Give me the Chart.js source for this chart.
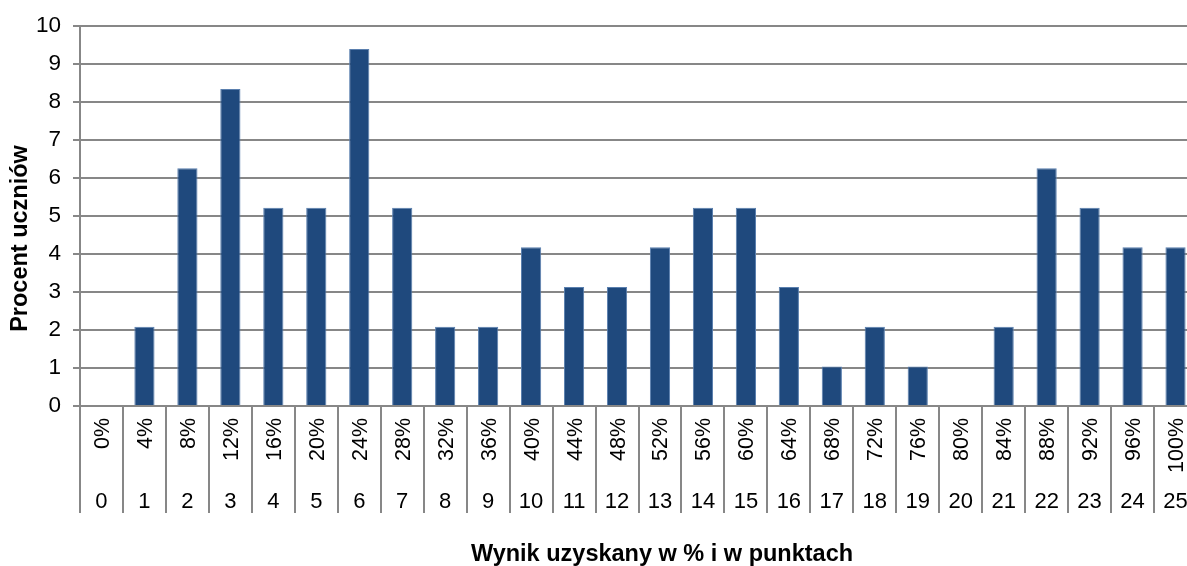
<!DOCTYPE html>
<html lang="pl">
<head>
<meta charset="utf-8">
<title>Rozkład wyników</title>
<script src="https://cdn.jsdelivr.net/npm/chart.js@4.4.1/dist/chart.umd.min.js"></script>
<style>
  html, body { margin: 0; padding: 0; background: #fff; overflow: hidden; }
  #wrap { width: 1200px; height: 566px; }
</style>
</head>
<body>
<div id="wrap"><canvas id="chart" width="1200" height="566"></canvas></div>
<script>
// Score in points (0–25) and the matching score in percent
const points = ['0','1','2','3','4','5','6','7','8','9','10','11','12','13','14','15','16','17','18','19','20','21','22','23','24','25'];
const percents = ['0%','4%','8%','12%','16%','20%','24%','28%','32%','36%','40%','44%','48%','52%','56%','60%','64%','68%','72%','76%','80%','84%','88%','92%','96%','100%'];
// Share of students with each score, in percent
const shares = [0, 2.08, 6.25, 8.33, 5.21, 5.21, 9.38, 5.21, 2.08, 2.08, 4.17, 3.13, 3.13, 4.17, 5.21, 5.21, 3.13, 1.04, 2.08, 1.04, 0, 2.08, 6.25, 5.21, 4.17, 4.17];
// Value axis
const yMin = 0;
const yMax = 10;
const yStep = 1;

const yTitle = 'Procent uczniów';
const xTitle = 'Wynik uzyskany w % i w punktach';

const GRID = '#878787';
const FONT = '"Liberation Sans", Arial, sans-serif';

// Two-row category labels (rotated percent + points) and both axis titles
const labelPlugin = {
  id: 'labelRows',
  afterDraw(chart) {
    const ctx = chart.ctx;
    const x = chart.scales.x;
    ctx.save();
    ctx.fillStyle = '#000';
    for (let i = 0; i < points.length; i++) {
      const cx = x.getPixelForValue(i);
      // percent row, rotated, reading bottom to top
      ctx.save();
      ctx.translate(cx + 7.5, 418);
      ctx.rotate(-Math.PI / 2);
      ctx.font = '21.5px ' + FONT;
      ctx.textAlign = 'right';
      ctx.textBaseline = 'alphabetic';
      ctx.fillText(percents[i], 0, 0);
      ctx.restore();
      // points row
      ctx.font = '22px ' + FONT;
      ctx.textAlign = 'center';
      ctx.textBaseline = 'alphabetic';
      ctx.fillText(points[i], cx, 508);
    }
    // axis titles
    ctx.font = 'bold 23.5px ' + FONT;
    ctx.textAlign = 'center';
    ctx.textBaseline = 'alphabetic';
    ctx.fillText(xTitle, 662, 561);
    ctx.save();
    ctx.translate(27, 238.5);
    ctx.rotate(-Math.PI / 2);
    ctx.fillText(yTitle, 0, 0);
    ctx.restore();
    ctx.restore();
  }
};

new Chart(document.getElementById('chart'), {
  type: 'bar',
  data: {
    labels: points,
    datasets: [{
      data: shares,
      backgroundColor: '#1f497d',
      borderColor: '#5a7fae',
      borderWidth: 1,
      barPercentage: 0.47,
      categoryPercentage: 1
    }]
  },
  options: {
    responsive: false,
    devicePixelRatio: 1,
    animation: false,
    layout: { padding: { top: 24, right: 3, left: 0, bottom: 0 } },
    plugins: {
      legend: { display: false },
      tooltip: { enabled: false }
    },
    scales: {
      x: {
        type: 'category',
        offset: true,
        grid: {
          offset: true,
          drawOnChartArea: false,
          drawTicks: true,
          tickLength: 107,
          color: GRID,
          lineWidth: 2
        },
        border: { display: true, color: GRID, width: 2 },
        ticks: { display: false },
        afterFit(s) { s.height = 160; }
      },
      y: {
        min: yMin,
        max: yMax,
        ticks: {
          stepSize: yStep,
          color: '#000',
          padding: 12,
          font: { family: FONT, size: 22.5 }
        },
        grid: {
          color: GRID,
          lineWidth: 2,
          drawTicks: true,
          tickLength: 7
        },
        border: { display: true, color: GRID, width: 2 },
        afterFit(s) { s.width = 80; }
      }
    }
  },
  plugins: [labelPlugin]
});
</script>
</body>
</html>
